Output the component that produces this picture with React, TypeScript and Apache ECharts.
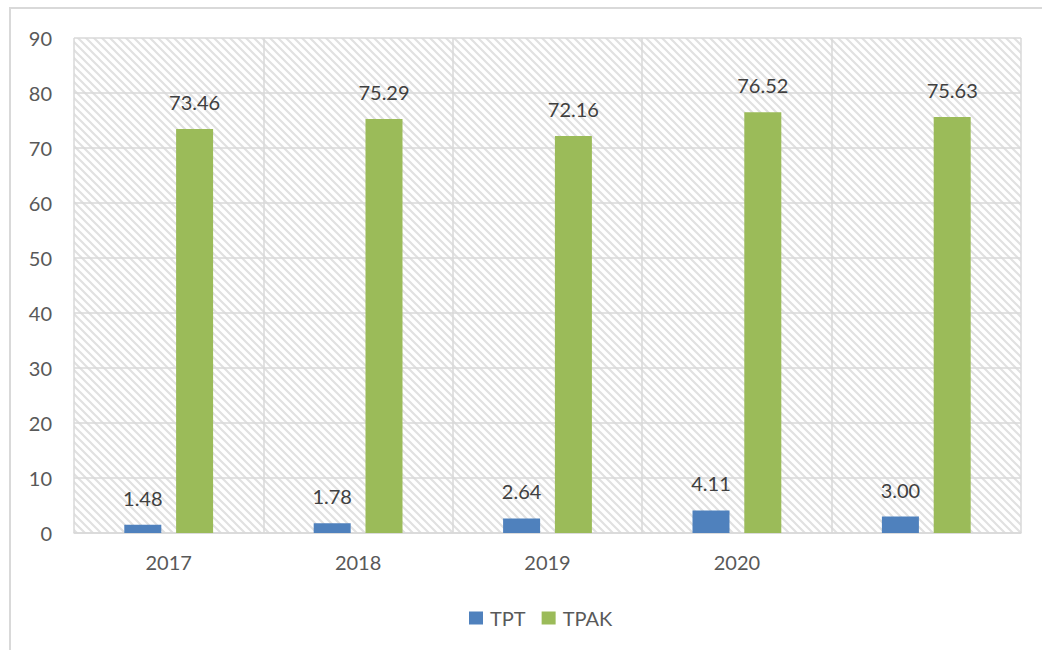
import React, { useEffect, useRef } from "react";
import * as echarts from "echarts";

const categories = ["2017", "2018", "2019", "2020", ""];
const tptValues = [1.48, 1.78, 2.64, 4.11, 3.0];
const tpakValues = [73.46, 75.29, 72.16, 76.52, 75.63];
const seriesNames = ["TPT", "TPAK"];

function makeHatch(): HTMLCanvasElement {
  const c = document.createElement("canvas");
  c.width = 8;
  c.height = 8;
  const ctx = c.getContext("2d")!;
  ctx.fillStyle = "#ffffff";
  ctx.fillRect(0, 0, 8, 8);
  ctx.strokeStyle = "#e1e1e1";
  ctx.lineWidth = 2.2;
  ctx.beginPath();
  ctx.moveTo(-8, 0);
  ctx.lineTo(8, 16);
  ctx.moveTo(0, 0);
  ctx.lineTo(8, 8);
  ctx.moveTo(0, -8);
  ctx.lineTo(16, 8);
  ctx.stroke();
  return c;
}

export default function App() {
  const ref = useRef<HTMLDivElement>(null);
  useEffect(() => {
    if (!ref.current) return;
    const chart = echarts.init(ref.current, null, { renderer: "svg" });
    const font = "Lato, 'Liberation Sans', sans-serif";
    const labelStyle = {
      show: true,
      position: "top" as const,
      distance: 17,
      color: "#404040",
      fontSize: 20,
      fontFamily: font,
      formatter: (p: any) => Number(p.value).toFixed(2),
    };
    chart.setOption({
      animation: false,
      backgroundColor: "#ffffff",
      textStyle: { fontFamily: font },
      graphic: [
        {
          type: "rect",
          shape: { x: 10, y: 8, width: 1040, height: 660 },
          style: { fill: "none", stroke: "#d9d9d9", lineWidth: 2 },
          silent: true,
        },
      ],
      grid: {
        left: 74,
        right: 21,
        top: 38,
        bottom: 117,
        show: true,
        borderWidth: 0,
        backgroundColor: {
          image: makeHatch(),
          imageWidth: 8,
          imageHeight: 8,
          repeat: "repeat",
        },
      },
      legend: {
        data: seriesNames,
        left: 464,
        top: 603,
        itemWidth: 14,
        itemHeight: 13,
        itemGap: 16,
        icon: "rect",
        textStyle: { color: "#595959", fontSize: 20, fontFamily: font, padding: [0, 0, 0, 2] },
      },
      xAxis: {
        type: "category",
        data: categories,
        axisLine: { show: true, lineStyle: { color: "#d9d9d9", width: 1.5 } },
        axisTick: { show: false },
        splitLine: { show: true, lineStyle: { color: "#d9d9d9", width: 1.5 } },
        axisLabel: { color: "#595959", fontSize: 20, margin: 19, fontFamily: font },
      },
      yAxis: {
        type: "value",
        min: 0,
        max: 90,
        interval: 10,
        axisLine: { show: false },
        axisTick: { show: false },
        splitLine: { show: true, lineStyle: { color: "#d9d9d9", width: 1.5 } },
        axisLabel: { color: "#595959", fontSize: 20, margin: 22, fontFamily: font },
      },
      series: [
        {
          name: seriesNames[0],
          type: "bar",
          data: tptValues,
          barWidth: 37,
          barGap: "40%",
          itemStyle: { color: "#4f81bd" },
          label: labelStyle,
        },
        {
          name: seriesNames[1],
          type: "bar",
          data: tpakValues,
          barWidth: 37,
          barGap: "40%",
          itemStyle: { color: "#9bbb59" },
          label: labelStyle,
        },
      ],
    });
    return () => chart.dispose();
  }, []);
  return (
    <div
      ref={ref}
      style={{ position: "fixed", left: 0, top: 0, width: 1042, height: 650 }}
    />
  );
}
